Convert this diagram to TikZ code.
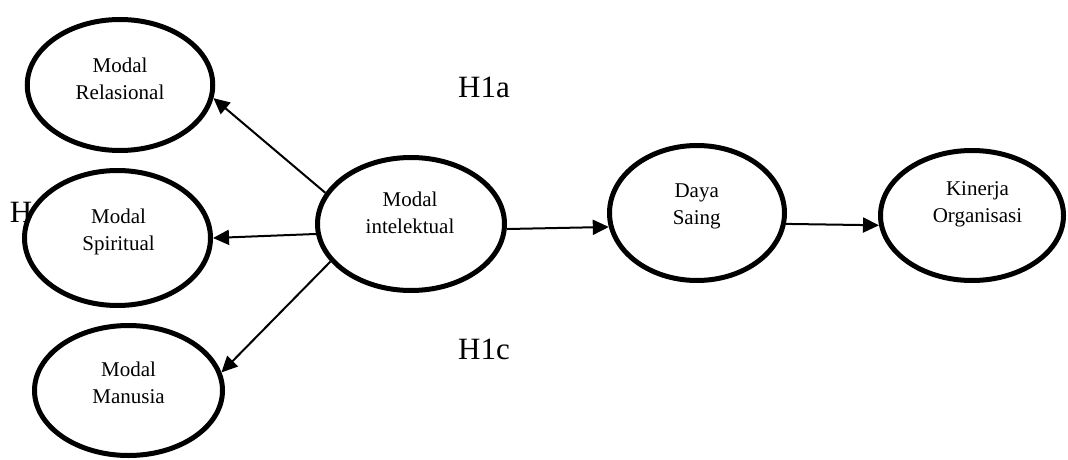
\documentclass[tikz,border=0pt]{standalone}
\usepackage{fontspec}
\setmainfont{Liberation Serif}
\usetikzlibrary{shapes.geometric,arrows.meta}
\begin{document}
\begin{tikzpicture}[x=1pt,y=-1pt,
  oval/.style={ellipse, draw, line width=5pt, fill=white, inner sep=0pt},
  lbl/.style={align=center, font=\fontsize{21}{27}\selectfont, inner sep=0pt},
  hyp/.style={font=\fontsize{31}{36}\selectfont, inner sep=0pt, anchor=base},
  arr/.style={line width=2pt, -{Triangle[length=16pt,width=15pt]}}]
\useasboundingbox (0,0) rectangle (1068,460);

\node[hyp] (hb) at (21,222.7) {H};

\node[oval, minimum width=185.5pt, minimum height=131pt] (rel) at (120,85) {};
\node[oval, minimum width=186pt, minimum height=135pt] (spi) at (117.5,238) {};
\node[oval, minimum width=188pt, minimum height=130pt] (man) at (128.5,390.5) {};
\node[oval, minimum width=187pt, minimum height=133pt] (int) at (411,224) {};
\node[oval, minimum width=175pt, minimum height=135pt] (daya) at (697,213) {};
\node[oval, minimum width=183pt, minimum height=130pt] (kin) at (972,215.5) {};

\node[lbl] (relt) at (120,78.7) {Modal\\Relasional};
\node[lbl] (spit) at (118.5,231.5) {Modal\\Spiritual};
\node[lbl] (mant) at (128.5,383.3) {Modal\\Manusia};
\node[lbl] (intt) at (410,213.3) {Modal\\intelektual};
\node[lbl] (dayat) at (696.7,206.3) {Daya\\Saing};
\node[lbl] (kint) at (977.5,204.8) {Kinerja\\Organisasi};

\node[hyp] (h1a) at (484,97) {H1a};
\node[hyp] (h1c) at (484,359) {H1c};

\draw[arr] (int.160) -- (rel.-8);
\draw[arr] (int.186.5) -- (spi.0);
\draw[arr] (int.205.5) -- (man.11);
\draw[arr] (int.-3.6) -- (daya.189.3);
\draw[arr] (daya.-7.8) -- (kin.186);
\end{tikzpicture}
\end{document}
